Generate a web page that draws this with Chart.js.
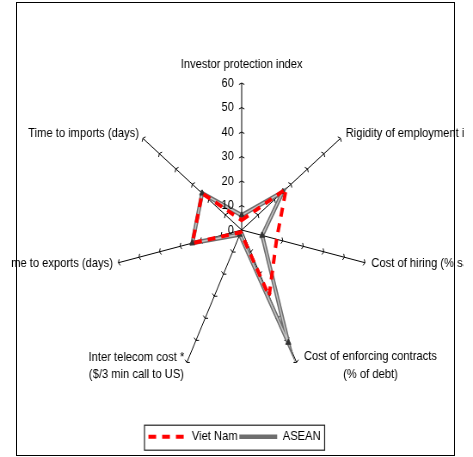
<!DOCTYPE html>
<html>
<head>
<meta charset="utf-8">
<script src="https://cdn.jsdelivr.net/npm/chart.js@4/dist/chart.umd.min.js"></script>
<style>
  html, body { margin: 0; padding: 0; background: #fff; overflow: hidden; width: 473px; height: 457px; }
  #frame { position: absolute; left: 16px; top: 2px; width: 437px; height: 452px; border: 1px solid #000; }
  #wrap { position: absolute; left: 0; top: 0; width: 550px; height: 457px; transform: scaleX(0.86); transform-origin: 0 0; }
</style>
</head>
<body>
<div id="frame"></div>
<div id="wrap"><canvas id="radar"></canvas></div>
<script>
// Spoke names (arrays are two-line names)
const categories = [
  'Investor protection index',
  'Rigidity of employment index',
  'Cost of hiring (% salary)',
  ['Cost of enforcing contracts', '(% of debt)'],
  ['Inter telecom cost *', '($/3 min call to US)'],
  'Time to exports (days)',
  'Time to imports (days)'
];
const seriesNames = ['Viet Nam', 'ASEAN'];
const vietNamValues = [4, 27, 17, 30, 1, 24, 24];
const aseanValues = [6, 25, 10, 51, 2, 24, 24];
const scaleTicks = [0, 10, 20, 30, 40, 50, 60];

// Layout of the radar inside the canvas
const CENTER_X = 281;
const CENTER_Y = 230;
const RADIUS = 147;
const FONT = '13px "Liberation Sans", Arial, sans-serif';

// Where each spoke name sits relative to the end of its spoke
const labelPlacement = [
  { align: 'center', dx: 0,     dy: -19 },
  { align: 'left',   dx: 6,     dy: -5 },
  { align: 'left',   dx: 7.5,   dy: 0.5 },
  { align: 'center', dx: 86,    dy: -5.7 },
  { align: 'center', dx: -58.6, dy: -5.4 },
  { align: 'right',  dx: -6.3,  dy: 0.6 },
  { align: 'right',  dx: -4.5,  dy: -5 }
];

Chart.defaults.font.family = '"Liberation Sans", Arial, sans-serif';
Chart.defaults.font.size = 13;
Chart.defaults.color = '#000';

const axisText = {
  id: 'axisText',
  afterDraw(chart) {
    const s = chart.scales.r;
    const ctx = chart.ctx;
    ctx.save();
    ctx.font = FONT;
    ctx.fillStyle = '#000';
    ctx.textBaseline = 'middle';

    // value labels beside the vertical spoke
    ctx.textAlign = 'right';
    s.ticks.forEach(t => {
      ctx.fillText(String(t.value), s.xCenter - 9, s.yCenter - s.getDistanceFromCenterForValue(t.value));
    });

    // spoke names, cut off at the sides of the frame
    ctx.save();
    ctx.beginPath();
    ctx.rect(13, 0, 526, chart.height);
    ctx.clip();
    const outer = s.getDistanceFromCenterForValue(s.max);
    categories.forEach((name, i) => {
      const p = s.getPointPosition(i, outer);
      const place = labelPlacement[i];
      const lines = Array.isArray(name) ? name : [name];
      ctx.textAlign = place.align;
      lines.forEach((line, k) => ctx.fillText(line, p.x + place.dx, p.y + place.dy + k * 17.6));
    });
    ctx.restore();

    // box around the legend entries
    const hb = chart.legend.legendHitBoxes;
    if (hb && hb.length) {
      const first = hb[0], last = hb[hb.length - 1];
      const l = first.left - 4.6;
      const r = last.left + last.width + 4.6;
      const t = first.top - 5;
      const b = first.top + first.height + 7;
      ctx.strokeStyle = '#222';
      ctx.lineWidth = 1.2;
      ctx.strokeRect(l, t, r - l, b - t);
    }
    ctx.restore();
  }
};

new Chart(document.getElementById('radar'), {
  type: 'radar',
  data: {
    labels: categories,
    datasets: [
      {
        label: seriesNames[0],
        data: vietNamValues,
        order: 0,
        fill: false,
        borderColor: '#ff0000',
        borderWidth: 4,
        borderDash: [9, 7],
        pointRadius: 0,
        tension: 0
      },
      {
        label: '',
        data: aseanValues,
        order: 0.5,
        fill: false,
        borderColor: '#c4c4c4',
        borderWidth: 1.5,
        pointStyle: 'triangle',
        pointRadius: 3.5,
        pointBackgroundColor: '#333',
        pointBorderColor: '#333',
        pointBorderWidth: 1,
        tension: 0
      },
      {
        label: seriesNames[1],
        data: aseanValues,
        order: 1,
        fill: false,
        borderColor: '#6e6e6e',
        borderWidth: 4.5,
        pointRadius: 0,
        tension: 0
      }
    ]
  },
  options: {
    responsive: true,
    maintainAspectRatio: false,
    animation: false,
    layout: { padding: { left: 0, right: 4.6, top: 0, bottom: 3.8 } },
    scales: {
      r: {
        min: 0,
        max: 60,
        afterBuildTicks(scale) {
          scale.ticks = scaleTicks.map(v => ({ value: v }));
        },
        afterFit(scale) {
          scale.xCenter = CENTER_X;
          scale.yCenter = CENTER_Y;
          scale.drawingArea = RADIUS;
        },
        ticks: { display: false },
        pointLabels: { display: false },
        angleLines: { display: true, color: '#000', lineWidth: 1 },
        grid: { circular: false, color: '#000', lineWidth: 1 },
        border: {
          // short cross marks on every spoke at each tick value
          dash(ctx) {
            const sc = ctx.scale;
            const n = sc.getLabels().length;
            const d = sc.getDistanceFromCenterForValue(ctx.tick.value);
            const side = 2 * d * Math.sin(Math.PI / n);
            const h = 3.5;
            return [h, Math.max(side - 2 * h, 0.1), h, 0];
          }
        }
      }
    },
    plugins: {
      tooltip: { enabled: false },
      legend: {
        position: 'bottom',
        labels: {
          usePointStyle: true,
          pointStyle: 'line',
          pointStyleWidth: 44,
          boxHeight: 13,
          padding: 2,
          color: '#000',
          font: { size: 13 },
          filter: item => item.text !== '',
          generateLabels(chart) {
            return Chart.defaults.plugins.legend.labels.generateLabels(chart).map(item => {
              const ds = chart.data.datasets[item.datasetIndex];
              item.strokeStyle = ds.borderColor;
              item.lineWidth = ds.borderWidth;
              item.lineDash = ds.borderDash || [];
              return item;
            });
          }
        }
      }
    }
  },
  plugins: [axisText]
});
</script>
</body>
</html>
